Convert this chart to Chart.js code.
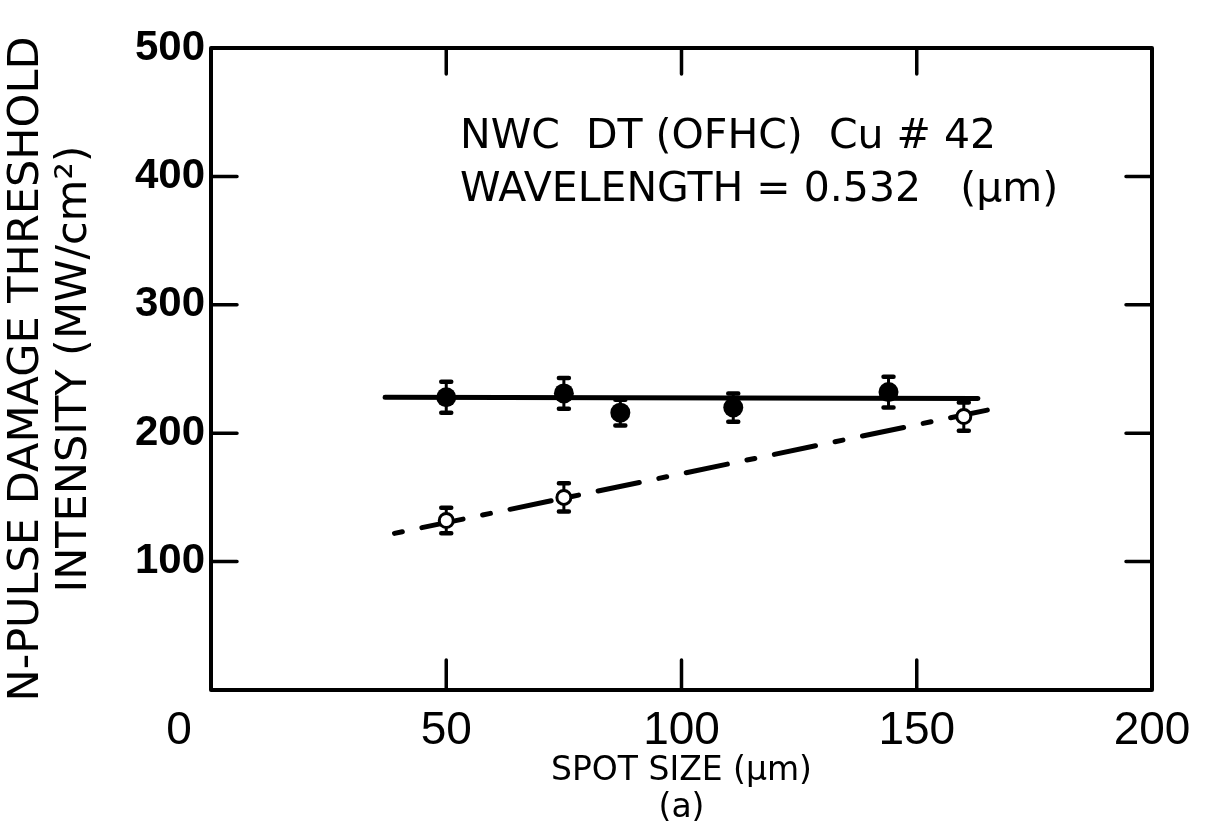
<!DOCTYPE html>
<html>
<head>
<meta charset="utf-8">
<script src="https://cdn.jsdelivr.net/npm/chart.js@4.4.7/dist/chart.umd.min.js"></script>
<style>
  html, body { margin: 0; padding: 0; background: #fff; }
  canvas { display: block; }
</style>
</head>
<body>
<canvas id="chart" width="1217" height="837"></canvas>
<script>
// N-pulse damage threshold vs. spot size, OFHC copper #42 at 0.532 µm

// closed circles
const filledSpot = [50, 75, 87, 111, 144]
const filledThreshold = [228, 231, 216, 220, 232]
const filledError = [12, 12, 10, 11, 12]

// open circles
const openSpot = [50, 75, 160]
const openThreshold = [132, 150, 213]
const openError = [10, 11, 11]

// fitted lines (end points)
const solidFitSpot = [37, 163]
const solidFitThreshold = [228, 227]
const dashedFitSpot = [39, 165]
const dashedFitThreshold = [122, 218]

const xTicks = [0, 50, 100, 150, 200]
const yTicks = [100, 200, 300, 400, 500]

const annotation = ["NWC  DT (OFHC)  Cu # 42", "WAVELENGTH = 0.532   (\u03bcm)"]

const ink = "#000"
const digitFont = "'Liberation Sans', sans-serif"
const letterFont = "'DejaVu Sans', sans-serif"

const toPoints = (xs, ys) => xs.map((v, i) => ({ x: v, y: ys[i] }))

// vertical error bars with short caps, drawn under the markers
const errorBars = {
  id: "errorBars",
  beforeDatasetsDraw(chart) {
    const { ctx, scales: { x, y } } = chart
    const sets = [
      [filledSpot, filledThreshold, filledError],
      [openSpot, openThreshold, openError]
    ]
    ctx.save()
    ctx.strokeStyle = ink
    ctx.lineCap = "round"
    for (const [xs, ys, errs] of sets) {
      xs.forEach((v, i) => {
        const px = x.getPixelForValue(v)
        const top = y.getPixelForValue(ys[i] + errs[i])
        const bottom = y.getPixelForValue(ys[i] - errs[i])
        ctx.lineWidth = 3
        ctx.beginPath()
        ctx.moveTo(px, top)
        ctx.lineTo(px, bottom)
        ctx.stroke()
        ctx.lineWidth = 4.5
        ctx.beginPath()
        ctx.moveTo(px - 5, top)
        ctx.lineTo(px + 5, top)
        ctx.moveTo(px - 5, bottom)
        ctx.lineTo(px + 5, bottom)
        ctx.stroke()
      })
    }
    ctx.restore()
  }
}

// box around the plot with tick marks pointing inwards on all four sides
const frame = {
  id: "frame",
  afterDraw(chart) {
    const { ctx, chartArea: a, scales: { x, y } } = chart
    const len = 26
    ctx.save()
    ctx.strokeStyle = ink
    ctx.lineWidth = 3.5
    ctx.lineCap = "round"
    ctx.beginPath()
    xTicks.slice(1, -1).forEach(v => {
      const px = x.getPixelForValue(v)
      ctx.moveTo(px, a.top); ctx.lineTo(px, a.top + len)
      ctx.moveTo(px, a.bottom); ctx.lineTo(px, a.bottom - len - 4)
    })
    yTicks.slice(0, -1).forEach(v => {
      const py = y.getPixelForValue(v)
      ctx.moveTo(a.left, py); ctx.lineTo(a.left + len, py)
      ctx.moveTo(a.right, py); ctx.lineTo(a.right - len, py)
    })
    ctx.stroke()
    ctx.lineWidth = 4
    ctx.lineJoin = "round"
    ctx.strokeRect(a.left, a.top, a.right - a.left, a.bottom - a.top)
    ctx.restore()
  }
}

const label = {
  id: "label",
  afterDraw(chart) {
    const { ctx } = chart
    ctx.save()
    ctx.fillStyle = ink
    ctx.font = "41px " + letterFont
    ctx.textBaseline = "middle"
    ctx.textAlign = "left"
    ctx.fillText(annotation[0], 460, 137)
    ctx.fillText(annotation[1], 460, 190)
    ctx.restore()
  }
}

new Chart(document.getElementById("chart"), {
  type: "scatter",
  data: {
    datasets: [
      {
        label: "closed",
        data: toPoints(filledSpot, filledThreshold),
        pointRadius: 10,
        pointBackgroundColor: ink,
        pointBorderColor: ink,
        pointBorderWidth: 0,
        order: 0
      },
      {
        label: "open",
        data: toPoints(openSpot, openThreshold),
        pointRadius: 7,
        pointBackgroundColor: "#fff",
        pointBorderColor: ink,
        pointBorderWidth: 3,
        order: 0
      },
      {
        label: "solid fit",
        data: toPoints(solidFitSpot, solidFitThreshold),
        showLine: true,
        borderColor: ink,
        borderWidth: 5,
        borderCapStyle: "round",
        pointRadius: 0,
        order: 1
      },
      {
        label: "dashed fit",
        data: toPoints(dashedFitSpot, dashedFitThreshold),
        showLine: true,
        borderColor: ink,
        borderWidth: 5,
        borderCapStyle: "round",
        borderDash: [42, 20, 8, 20],
        borderDashOffset: 62,
        pointRadius: 0,
        order: 1
      }
    ]
  },
  options: {
    responsive: false,
    devicePixelRatio: 1,
    animation: false,
    layout: { padding: { top: 48, right: 65, left: 0, bottom: 0 } },
    plugins: {
      legend: { display: false },
      tooltip: { enabled: false }
    },
    scales: {
      x: {
        type: "linear",
        min: 0,
        max: 200,
        afterBuildTicks: s => { s.ticks = xTicks.map(v => ({ value: v })) },
        afterFit: s => { s.height = 147 },
        grid: { display: false, drawTicks: false },
        border: { display: false },
        ticks: {
          color: ink,
          padding: 14,
          maxRotation: 0,
          font: { family: digitFont, size: 46 },
          callback: v => v === 0 ? "0     " : String(v)
        },
        title: {
          display: true,
          text: ["SPOT SIZE (\u03bcm)", "(a)"],
          color: ink,
          font: { family: letterFont, size: 33, lineHeight: 1.12 },
          padding: { top: 0, bottom: 10 }
        }
      },
      y: {
        type: "linear",
        min: 0,
        max: 500,
        afterBuildTicks: s => { s.ticks = yTicks.map(v => ({ value: v })) },
        afterFit: s => { s.width = 211 },
        grid: { display: false, drawTicks: false },
        border: { display: false },
        ticks: {
          color: ink,
          padding: 6,
          font: { family: "'Liberation Sans', sans-serif", size: 42, weight: "bold" }
        },
        title: {
          display: true,
          text: ["N-PULSE DAMAGE THRESHOLD", "INTENSITY (MW/cm\u00b2)"],
          color: ink,
          font: { family: letterFont, size: 43, lineHeight: 1.12 },
          padding: { top: 3, bottom: 0 }
        }
      }
    }
  },
  plugins: [errorBars, frame, label]
})
</script>
</body>
</html>
